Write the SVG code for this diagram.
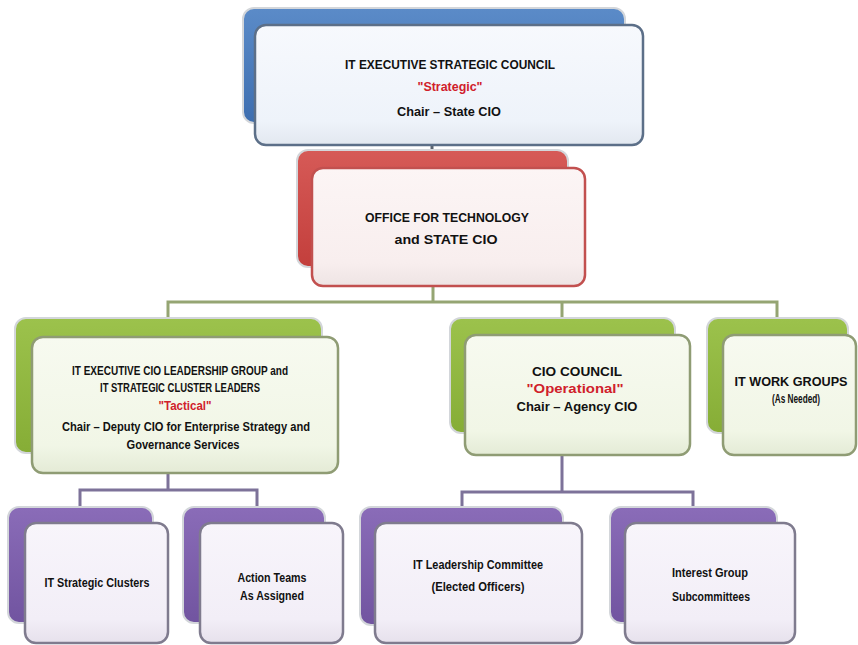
<svg xmlns="http://www.w3.org/2000/svg" width="858" height="645" viewBox="0 0 858 645">
<defs>
<linearGradient id="gBlue" x1="0" y1="0" x2="0" y2="1"><stop offset="0" stop-color="#5b8bc8"/><stop offset="1" stop-color="#3d6eb0"/></linearGradient>
<linearGradient id="gRed" x1="0" y1="0" x2="0" y2="1"><stop offset="0" stop-color="#d65a57"/><stop offset="1" stop-color="#c33f3c"/></linearGradient>
<linearGradient id="gGreen" x1="0" y1="0" x2="0" y2="1"><stop offset="0" stop-color="#9cc24c"/><stop offset="1" stop-color="#86ad36"/></linearGradient>
<linearGradient id="gPurple" x1="0" y1="0" x2="0" y2="1"><stop offset="0" stop-color="#8a6cb8"/><stop offset="1" stop-color="#7154a0"/></linearGradient>
<linearGradient id="fBlue" x1="0" y1="0" x2="0" y2="1"><stop offset="0" stop-color="#f7f9fd"/><stop offset="0.8" stop-color="#eef3fa"/><stop offset="1" stop-color="#e2e8f0"/></linearGradient>
<linearGradient id="fRed" x1="0" y1="0" x2="0" y2="1"><stop offset="0" stop-color="#fcf5f5"/><stop offset="0.8" stop-color="#f8eeee"/><stop offset="1" stop-color="#eee4e4"/></linearGradient>
<linearGradient id="fGreen" x1="0" y1="0" x2="0" y2="1"><stop offset="0" stop-color="#f7faf0"/><stop offset="0.8" stop-color="#f1f6e6"/><stop offset="1" stop-color="#e4ebd6"/></linearGradient>
<linearGradient id="fPurple" x1="0" y1="0" x2="0" y2="1"><stop offset="0" stop-color="#f8f5fb"/><stop offset="0.8" stop-color="#f2eef7"/><stop offset="1" stop-color="#e6e1ec"/></linearGradient>
</defs>
<style>
.back{stroke:#d3d6da;stroke-width:2}
.front{stroke-width:2.5}
.fb{fill:url(#fBlue);stroke:#5c6f88}
.fr{fill:url(#fRed);stroke:#c2504f}
.fg{fill:url(#fGreen);stroke:#8f9c74}
.fp{fill:url(#fPurple);stroke:#7f7b8e}
text{font-family:"Liberation Sans Narrow","Liberation Sans",Arial,sans-serif;font-weight:bold;font-size:12px;fill:#111;text-anchor:middle}
.red{fill:#d0202a}
.conn{fill:none;stroke-width:3}
</style>
<rect width="858" height="645" fill="#ffffff"/>
<g id="connectors">
<path class="conn" d="M432,145 V150" stroke="#5c6470" stroke-width="2"/>
<path class="conn" d="M433,287 V302 M168,318 V302 H777 V318 M562,302 V318" stroke="#95a573"/>
<path class="conn" d="M168,473 V490 M80,507 V490 H257 V507" stroke="#7d7299"/>
<path class="conn" d="M562,455 V492 M462,507 V492 H693 V507" stroke="#7d7299"/>
</g>
<g id="node-executive-council">
<rect class="back" x="243" y="8" width="382" height="115" rx="11" fill="url(#gBlue)"/>
<rect class="front fb" x="255" y="25" width="388" height="120" rx="11"/>
<text x="450" y="69" textLength="210" lengthAdjust="spacingAndGlyphs">IT EXECUTIVE STRATEGIC COUNCIL</text>
<text class="red" x="450" y="91" textLength="65" lengthAdjust="spacingAndGlyphs">"Strategic"</text>
<text x="449" y="116" textLength="104" lengthAdjust="spacingAndGlyphs">Chair – State CIO</text>
</g>
<g id="node-office">
<rect class="back" x="297" y="150" width="271" height="117" rx="11" fill="url(#gRed)"/>
<rect class="front fr" x="312" y="168" width="273" height="118" rx="11"/>
<text x="447" y="222" textLength="164" lengthAdjust="spacingAndGlyphs">OFFICE FOR TECHNOLOGY</text>
<text x="446" y="244" textLength="103" lengthAdjust="spacingAndGlyphs">and STATE CIO</text>
</g>
<g id="node-leadership-group">
<rect class="back" x="15" y="318" width="307" height="135" rx="11" fill="url(#gGreen)"/>
<rect class="front fg" x="32" y="337" width="306" height="136" rx="11"/>
<text x="180" y="375" textLength="216" lengthAdjust="spacingAndGlyphs">IT EXECUTIVE CIO LEADERSHIP GROUP and</text>
<text x="180" y="392" textLength="160" lengthAdjust="spacingAndGlyphs">IT STRATEGIC CLUSTER LEADERS</text>
<text class="red" x="185" y="410" textLength="53" lengthAdjust="spacingAndGlyphs">"Tactical"</text>
<text x="186" y="431" textLength="248" lengthAdjust="spacingAndGlyphs">Chair – Deputy CIO for Enterprise Strategy and</text>
<text x="183" y="449" textLength="113" lengthAdjust="spacingAndGlyphs">Governance Services</text>
</g>
<g id="node-cio-council">
<rect class="back" x="450" y="318" width="225" height="115" rx="11" fill="url(#gGreen)"/>
<rect class="front fg" x="465" y="335" width="225" height="120" rx="11"/>
<text x="577" y="376" textLength="90" lengthAdjust="spacingAndGlyphs">CIO COUNCIL</text>
<text class="red" x="575" y="393" textLength="97" lengthAdjust="spacingAndGlyphs">"Operational"</text>
<text x="577" y="411" textLength="121" lengthAdjust="spacingAndGlyphs">Chair – Agency CIO</text>
</g>
<g id="node-work-groups">
<rect class="back" x="707" y="318" width="141" height="115" rx="11" fill="url(#gGreen)"/>
<rect class="front fg" x="723" y="335" width="133" height="120" rx="11"/>
<text x="791" y="386" textLength="113" lengthAdjust="spacingAndGlyphs">IT WORK GROUPS</text>
<text x="796" y="403" textLength="48" lengthAdjust="spacingAndGlyphs" font-size="11">(As Needed)</text>
</g>
<g id="node-strategic-clusters">
<rect class="back" x="8" y="507" width="145" height="116" rx="11" fill="url(#gPurple)"/>
<rect class="front fp" x="25" y="523" width="143" height="120" rx="11"/>
<text x="97" y="587" textLength="105" lengthAdjust="spacingAndGlyphs">IT Strategic Clusters</text>
</g>
<g id="node-action-teams">
<rect class="back" x="183" y="507" width="142" height="116" rx="11" fill="url(#gPurple)"/>
<rect class="front fp" x="200" y="523" width="143" height="120" rx="11"/>
<text x="272" y="582" textLength="69" lengthAdjust="spacingAndGlyphs">Action Teams</text>
<text x="272" y="600" textLength="64" lengthAdjust="spacingAndGlyphs">As Assigned</text>
</g>
<g id="node-leadership-committee">
<rect class="back" x="360" y="507" width="203" height="118" rx="11" fill="url(#gPurple)"/>
<rect class="front fp" x="375" y="523" width="207" height="120" rx="11"/>
<text x="478" y="569" textLength="130" lengthAdjust="spacingAndGlyphs">IT Leadership Committee</text>
<text x="478" y="591" textLength="93" lengthAdjust="spacingAndGlyphs">(Elected Officers)</text>
</g>
<g id="node-interest-group">
<rect class="back" x="610" y="507" width="167" height="116" rx="11" fill="url(#gPurple)"/>
<rect class="front fp" x="625" y="523" width="170" height="120" rx="11"/>
<text x="710" y="577" textLength="76" lengthAdjust="spacingAndGlyphs">Interest Group</text>
<text x="711" y="601" textLength="78" lengthAdjust="spacingAndGlyphs">Subcommittees</text>
</g>
</svg>
